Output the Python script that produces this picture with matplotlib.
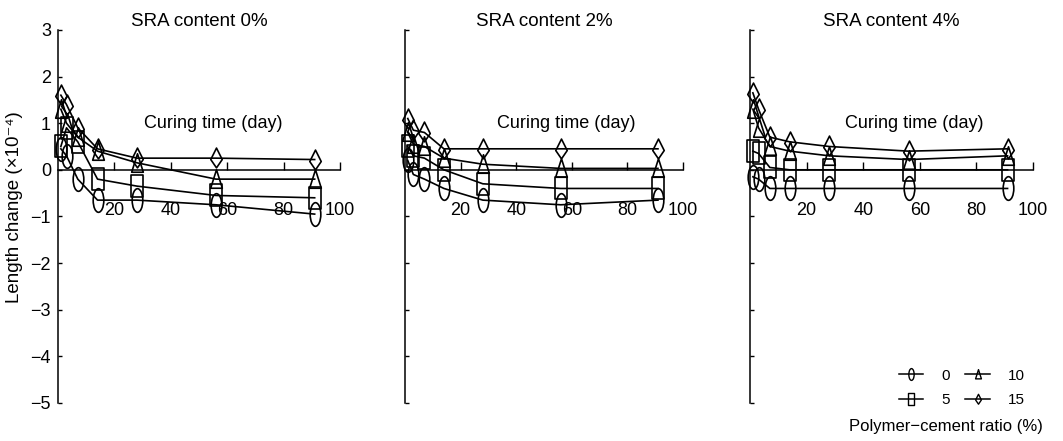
"""Length change vs curing time for three SRA contents, one panel each,
with the four polymer-cement ratios as separate series."""

import matplotlib
matplotlib.use("Agg")
import matplotlib.pyplot as plt
from matplotlib.lines import Line2D
from matplotlib.path import Path
from matplotlib.transforms import Affine2D

plt.rcParams["font.family"] = ["Liberation Sans", "DejaVu Sans"]

# curing time (day)
days = [1, 3, 7, 14, 28, 56, 91]

# length change (x10^-4), SRA content 0%
sra0_pcr0 = [0.45, 0.3, -0.2, -0.65, -0.65, -0.75, -0.95]
sra0_pcr5 = [0.5, 0.9, 0.6, -0.2, -0.35, -0.55, -0.6]
sra0_pcr10 = [1.3, 1.0, 0.7, 0.4, 0.15, -0.2, -0.2]
sra0_pcr15 = [1.6, 1.4, 0.9, 0.45, 0.25, 0.25, 0.22]

# SRA content 2%
sra2_pcr0 = [0.2, -0.1, -0.2, -0.4, -0.65, -0.75, -0.65]
sra2_pcr5 = [0.5, 0.3, 0.25, 0.0, -0.3, -0.4, -0.4]
sra2_pcr10 = [0.8, 0.55, 0.5, 0.25, 0.12, 0.03, 0.03]
sra2_pcr15 = [1.1, 0.85, 0.8, 0.45, 0.45, 0.45, 0.45]

# SRA content 4%
sra4_pcr0 = [-0.15, -0.2, -0.4, -0.4, -0.4, -0.4, -0.4]
sra4_pcr5 = [0.4, 0.35, 0.05, 0.0, 0.0, 0.0, 0.0]
sra4_pcr10 = [1.3, 0.9, 0.5, 0.4, 0.3, 0.22, 0.3]
sra4_pcr15 = [1.65, 1.3, 0.7, 0.6, 0.5, 0.4, 0.45]

panel_titles = ["SRA content 0%", "SRA content 2%", "SRA content 4%"]
ratio_labels = ["0", "5", "10", "15"]
x_ticks = [20, 40, 60, 80, 100]
y_ticks = [3, 2, 1, 0, -1, -2, -3, -4, -5]

panels = [
    [sra0_pcr0, sra0_pcr5, sra0_pcr10, sra0_pcr15],
    [sra2_pcr0, sra2_pcr5, sra2_pcr10, sra2_pcr15],
    [sra4_pcr0, sra4_pcr5, sra4_pcr10, sra4_pcr15],
]


def _markers():
    """Tall open markers like the scanned original."""
    ellipse = Affine2D().scale(0.45, 1.0).transform_path(Path.unit_circle())
    rect = Path([(-0.52, -1), (0.52, -1), (0.52, 1), (-0.52, 1), (-0.52, -1)],
                closed=True)
    tri = Path([(-0.6, -0.9), (0.6, -0.9), (0, 1.0), (-0.6, -0.9)], closed=True)
    diamond = Path([(0, 1.0), (0.55, -0.1), (0, -0.9), (-0.55, -0.1), (0, 1.0)],
                   closed=True)
    return [ellipse, rect, tri, diamond]


MARKERS = _markers()
MSIZES = [17, 16.5, 14, 15]

fig = plt.figure(figsize=(10.63, 4.41), dpi=100, facecolor="white")
boxes = [
    (0.0546, 0.0862, 0.2653, 0.846),
    (0.3810, 0.0862, 0.2615, 0.846),
    (0.7056, 0.0862, 0.2662, 0.846),
]
label_x = [55, 58, 58]

for i, (box, series) in enumerate(zip(boxes, panels)):
    ax = fig.add_axes(box)
    ax.set_facecolor("none")
    for vals, mk, ms in zip(series, MARKERS, MSIZES):
        ax.plot(days, vals, color="black", linewidth=1.2, marker=mk,
                markersize=ms, markerfacecolor="none", markeredgecolor="black",
                markeredgewidth=1.2, clip_on=False, zorder=3)

    ax.set_xlim(0, 100)
    ax.set_ylim(-5, 3)
    ax.spines["top"].set_visible(False)
    ax.spines["right"].set_visible(False)
    ax.spines["bottom"].set_position(("data", 0))
    ax.spines["bottom"].set_bounds(0, 100)
    for s in ("left", "bottom"):
        ax.spines[s].set_linewidth(1.1)
        ax.spines[s].set_color("black")

    ax.set_xticks(x_ticks)
    ax.set_xticklabels([str(t) for t in x_ticks])
    ax.tick_params(axis="x", direction="in", length=6, width=1.0, pad=23,
                   labelsize=13, colors="black")
    ax.set_yticks(y_ticks)
    ax.set_yticklabels([str(t).replace("-", "\u2212") for t in y_ticks])
    ax.tick_params(axis="y", direction="in", length=3, width=1.0, pad=5,
                   labelsize=13, colors="black", labelleft=(i == 0))

    ax.set_title(panel_titles[i], fontsize=13.5, pad=3)
    ax.text(label_x[i], 1.0, "Curing time (day)", fontsize=13,
            ha="center", va="center")

fig.text(0.014, 0.53, "Length change (\u00d710\u207b\u2074)", rotation=90,
         fontsize=13.5, ha="center", va="center")

handles = [
    Line2D([], [], color="black", linewidth=1.1, marker=mk, markersize=ms * 0.5,
           markerfacecolor="none", markeredgecolor="black", markeredgewidth=1.0)
    for mk, ms in zip(MARKERS, MSIZES)
]
fig.legend(handles, ratio_labels, ncol=2, loc="center",
           bbox_to_anchor=(0.905, 0.12), frameon=False, fontsize=11,
           handlelength=1.6, handletextpad=1.2, columnspacing=1.0,
           labelspacing=0.7)
fig.text(0.981, 0.032, "Polymer\u2212cement ratio (%)", fontsize=12,
         ha="right", va="center")

fig.savefig("out.png", dpi=100, facecolor="white")
plt.close(fig)
